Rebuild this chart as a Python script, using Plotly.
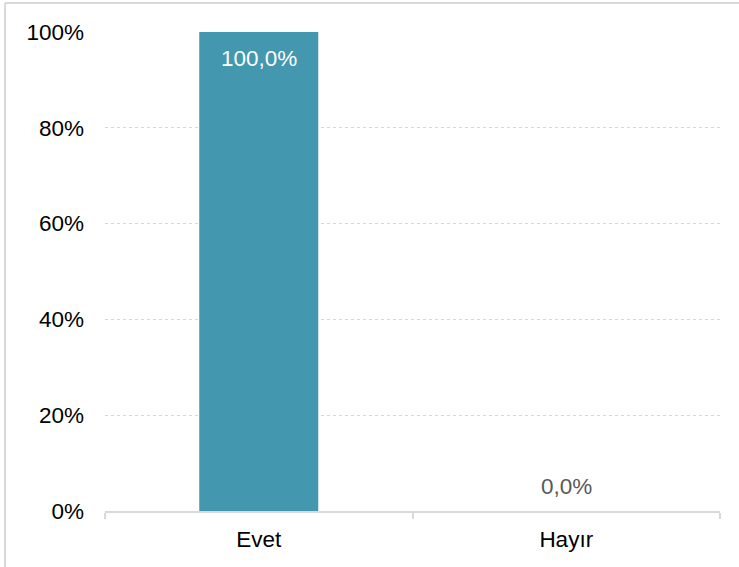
import plotly.graph_objects as go

categories = ["Evet", "Hayır"]
values = [100.0, 0.0]
y_ticks = [0, 20, 40, 60, 80, 100]
y_tick_labels = ["0%", "20%", "40%", "60%", "80%", "100%"]

labels = [f"{v:.1f}%".replace(".", ",") for v in values]

W, H = 739, 567
L, R, T, B = 105, 19, 32, 56
pw, ph = W - L - R, H - T - B
FONT = "Liberation Sans, Arial, sans-serif"
FS = 22.5

fig = go.Figure(go.Bar(
    x=categories, y=values,
    marker=dict(color="#4397AE", line=dict(width=0)),
    width=0.387,
    hoverinfo="skip",
))

for c, v, lab in zip(categories, values, labels):
    inside = v > 50
    fig.add_annotation(
        x=c, y=v, text=lab, showarrow=False,
        yshift=-26 if inside else 25,
        font=dict(family=FONT, size=FS,
                  color="#ffffff" if inside else "#595959"),
    )

fig.update_layout(
    width=W, height=H,
    margin=dict(l=L, r=R, t=T, b=B),
    paper_bgcolor="white", plot_bgcolor="white",
    showlegend=False,
    font=dict(family=FONT, size=FS, color="#000000"),
    xaxis=dict(
        showgrid=False, showline=True, linecolor="#d9d9d9", linewidth=2,
        ticks="outside", tickson="boundaries", ticklen=6, tickcolor="#d9d9d9", tickwidth=2,
        ticklabelstandoff=7,
        tickfont=dict(size=FS, color="#000000"),
    ),
    yaxis=dict(
        range=[0, 100], tickvals=y_ticks, ticktext=y_tick_labels,
        showgrid=True, gridcolor="#d6d6d6", griddash="dot", gridwidth=1,
        zeroline=False, showline=False, ticks="",
        ticklabelstandoff=20,
        tickfont=dict(size=FS, color="#000000"),
    ),
    shapes=[
        dict(type="line", xref="paper", yref="paper",
             x0=(5 - L) / pw, x1=(W - L) / pw + 0.01,
             y0=(H - B - 3) / ph, y1=(H - B - 3) / ph,
             line=dict(color="#d9d9d9", width=2)),
        dict(type="line", xref="paper", yref="paper",
             x0=(5 - L) / pw, x1=(5 - L) / pw,
             y0=(H - B - 3) / ph, y1=-(B + 5) / ph,
             line=dict(color="#d9d9d9", width=2)),
    ],
)

fig.write_html("out.html", config={"displayModeBar": False})

with open("out.html", "r", encoding="utf-8") as f:
    html = f.read()
html = html.replace("<head>", "<head><style>html,body{margin:0;padding:0;overflow:hidden;}</style>", 1)
with open("out.html", "w", encoding="utf-8") as f:
    f.write(html)
